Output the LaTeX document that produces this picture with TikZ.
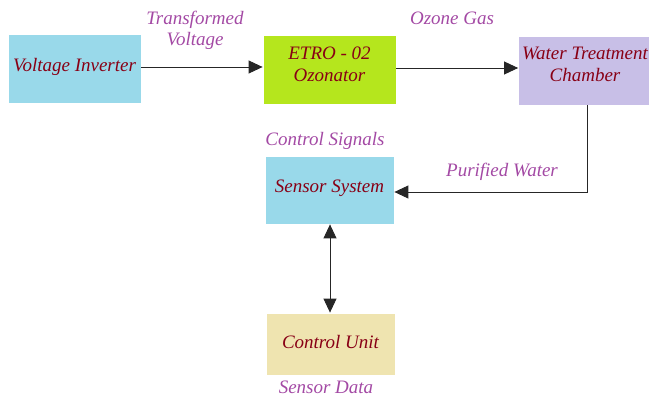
\documentclass[tikz,border=0pt]{standalone}
\usepackage{fontspec}
\setmainfont{Liberation Serif}
\usetikzlibrary{arrows.meta}
\definecolor{boxtext}{HTML}{880015}
\definecolor{lbltext}{HTML}{A349A4}
\definecolor{bluebox}{HTML}{99D9EA}
\definecolor{limebox}{HTML}{B5E61D}
\definecolor{lavbox}{HTML}{C8BFE7}
\definecolor{tanbox}{HTML}{EFE4B0}
\tikzset{
  blk/.style={draw=white, line width=0.8pt, minimum width=133pt, minimum height=69pt, inner sep=0pt},
  btxt/.style={align=center, text=boxtext, inner sep=0pt, font=\fontsize{19}{22}\selectfont\itshape},
  lbl/.style={text=lbltext, align=center, font=\fontsize{19}{21}\selectfont\itshape, inner sep=0pt},
  conn/.style={draw=black!85, line width=0.9pt, -{Triangle[length=14pt,width=13pt]}},
}
\begin{document}
\begin{tikzpicture}[x=1pt,y=-1pt]
\useasboundingbox (0,0) rectangle (649,396);
\clip (0,0) rectangle (649,396);
\node[blk, fill=bluebox] (vi) at (74.5,68.5) {};
\node[blk, fill=limebox] (etro) at (329.5,69.5) {};
\node[blk, fill=lavbox] (wtc) at (585,70.5) {};
\node[blk, fill=bluebox, minimum width=129pt, minimum height=68pt] (ss) at (329.5,190) {};
\node[blk, fill=tanbox, minimum width=129pt, minimum height=62pt] (cu) at (330.5,344) {};
\node[btxt] (vit) at (74.5,66.5) {Voltage Inverter};
\node[btxt] (etrot) at (329.5,64) {ETRO - 02\\Ozonator};
\node[btxt] (wtct) at (585,64) {Water Treatment\\Chamber};
\node[btxt] (sst) at (329.5,188.5) {Sensor System};
\node[btxt] (cut) at (330.5,342) {Control Unit};
\node[lbl] (l1) at (195,30) {Transformed\\Voltage};
\node[lbl] (l2) at (452,18) {Ozone Gas};
\node[lbl] (l3) at (325,141) {Control Signals};
\node[lbl] (l4) at (502,172) {Purified Water};
\node[lbl] (l5) at (326,387) {Sensor Data};
\draw[conn] (vi.east |- 0,67) -- (etro.west |- 0,67);
\draw[conn] (etro.east |- 0,68) -- (wtc.west |- 0,68);
\coordinate (c1) at (587,192);
\draw[conn] (wtc.south -| c1) -- (c1) -- (ss.east |- c1);
\draw[conn, {Triangle[length=14pt,width=13pt]}-{Triangle[length=14pt,width=13pt]}] (ss.south -| 330,0) -- (cu.north -| 330,0);
\end{tikzpicture}
\end{document}
